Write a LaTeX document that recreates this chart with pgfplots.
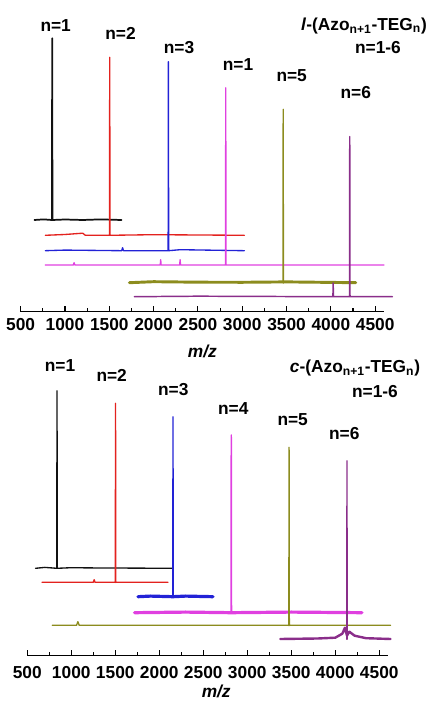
\documentclass[border=0pt]{standalone}
\usepackage{pgfplots}
\pgfplotsset{compat=1.18}
\usepackage{fontspec}
\setmainfont{Liberation Sans}
\definecolor{cBlack}{HTML}{111111}
\definecolor{cRed}{HTML}{E3221E}
\definecolor{cBlue}{HTML}{2222D6}
\definecolor{cMag}{HTML}{E040E0}
\definecolor{cOli}{HTML}{8C8C1E}
\definecolor{cPur}{HTML}{8A2E8A}
\begin{document}
\begin{tikzpicture}[x=0.75pt,y=0.75pt,font=\fontsize{13}{15}\selectfont\bfseries]
\path[use as bounding box] (0,0) rectangle (431,702);
\pgfplotsset{spec/.style={
  scale only axis, height=225pt, xmin=500, xmax=4600, ymin=0, ymax=300,
  clip=false, axis x line=bottom, axis y line=none,
  axis line style={-, line width=1pt, black},
  xtick={500,1000,1500,2000,2500,3000,3500,4000,4500},
  xticklabels={500,1000,1500,2000,2500,3000,3500,4000,4500},
  minor x tick num=1, tick align=inside,
  major tick length=4.5pt, minor tick length=2.5pt,
  tick style={line width=0.8pt, black},
  every tick label/.append style={font=\fontsize{13}{15}\selectfont\bfseries},
  xlabel={\bfseries\itshape m/z},
  every axis plot/.append style={line join=round, line cap=round},
}}
% ---------------- top panel: l-(Azo_{n+1}-TEG_n)
\begin{axis}[spec, at={(23.3,390.3)}, anchor=south west, width=272.55pt,
  xticklabel style={anchor=center, yshift=-9.3pt},
  xlabel style={at={(axis description cs:0.5,0)}, anchor=center, yshift=-30pt}]
% black n=1
\addplot[cBlack, line width=1.3pt] coordinates {(655,91.7)(760,92.3)(853,91.7)(856,273.4)(859,91.7)(1000,92.2)(1200,91.7)(1400,92.3)(1637,91.7)};
\addplot[cBlack, line width=1.5pt] coordinates {(856,91.7)(856,151.7)};
% red n=2
\addplot[cRed, line width=1.0pt] coordinates {(779,76.4)(1000,77.2)(1200,78.5)(1230,76.4)(1502,76.4)(1505,254.4)(1508,76.4)(2000,77.0)(3024,76.4)};
% blue n=3
\addplot[cBlue, line width=1.0pt] coordinates {(779,61)(1000,61.6)(1640,61)(1650,64)(1660,61)(2164,61)(2167,250)(2170,61)(2300,62)(3024,61)};
% magenta n=4
\addplot[cMag, line width=1.0pt] coordinates {(779,46.7)(1095,46.7)(1103,49)(1111,46.7)(2075,46.7)(2080,52)(2085,46.7)(2294,46.7)(2299,52)(2304,46.7)(2811,46.7)(2814,224)(2817,46.7)(4600,46.7)};
% olive n=5
\addplot[cOli, line width=2.2pt] coordinates {(1727,29)(2000,30)(2500,29.5)(3000,29.4)(3500,29.8)(4281,29)};
\addplot[cOli, line width=1.0pt] coordinates {(3459,29)(3462,202.4)(3465,29)};
\addplot[cOli, line width=1.4pt] coordinates {(3465,29)(3465,128.7)};
% purple n=6
\addplot[cPur, line width=1.1pt] coordinates {(1783,15)(2500,15.5)(4023,15)(4026,28.7)(4029,15)(4210,15)(4213,175)(4216,15)(4694,15)};
\end{axis}
% ---------------- bottom panel: c-(Azo_{n+1}-TEG_n)
\begin{axis}[spec, at={(31,46.3)}, anchor=south west, width=270.6pt,
  xticklabel style={anchor=center, yshift=-13pt},
  xlabel style={at={(axis description cs:0.5,0)}, anchor=center, yshift=-27pt, xshift=6.4pt}]
% black n=1
\addplot[cBlack, line width=1.0pt] coordinates {(594,87.4)(700,88.3)(835,87.4)(838,265)(841,87.4)(1000,88)(1200,87.8)(2148,87.4)};
% red n=2
\addplot[cRed, line width=1.0pt] coordinates {(667,73.4)(1250,73.4)(1260,76)(1270,73.4)(1500,73.4)(1503,252.4)(1506,73.4)(2099,73.4)};
\addplot[cRed, line width=1.3pt] coordinates {(1503,73.4)(1503,147.7)};
% blue n=3
\addplot[cBlue, line width=2.4pt] coordinates {(1758,59)(1900,59.6)(2156,59)(2300,59.6)(2610,59)};
\addplot[cBlue, line width=1.0pt] coordinates {(2153,59)(2156,239)(2159,59)};
\addplot[cBlue, line width=1.4pt] coordinates {(2156,59)(2156,164)};
% magenta n=4
\addplot[cMag, line width=2.4pt] coordinates {(1719,43)(2300,43.6)(2818,43)(3500,43.6)(4303,43)};
\addplot[cMag, line width=1.1pt] coordinates {(2815,43)(2818,220.7)(2821,43)};
% olive n=5
\addplot[cOli, line width=1.0pt] coordinates {(784,30.4)(1060,30.4)(1075,34)(1090,30.4)(3472,30.4)(3475,208.4)(3478,30.4)(4628,30.4)};
\addplot[cOli, line width=1.5pt] coordinates {(3475,30.4)(3475,90.7)};
% purple n=6
\addplot[cPur, line width=1.8pt] coordinates {(3375,16.7)(3800,17.2)(4000,18)(4080,22)(4110,28)(4133,20)(4160,24)(4220,20)(4350,17.5)(4628,16.7)};
\addplot[cPur, line width=1.0pt] coordinates {(4130,16.7)(4133,195)(4136,16.7)};
\addplot[cPur, line width=1.5pt] coordinates {(4133,16.7)(4133,70.7)};
\end{axis}
% ---------------- labels (top)
\node at (55.7,702-25.3) {n=1};
\node at (120.5,702-33) {n=2};
\node at (179,702-48) {n=3};
\node at (238,702-65) {n=1};
\node at (291.7,702-76) {n=5};
\node at (355.8,702-93) {n=6};
\node at (364,702-25.8) {\textit{l}-(Azo\textsubscript{n+1}-TEG\textsubscript{n})};
\node at (378,702-48) {n=1-6};
% ---------------- labels (bottom)
\node at (60,702-366) {n=1};
\node at (111.7,702-375) {n=2};
\node at (173.3,702-390) {n=3};
\node at (233.3,702-408.3) {n=4};
\node at (292.7,702-419.3) {n=5};
\node at (344.3,702-434) {n=6};
\node at (355,702-368.3) {\textit{c}-(Azo\textsubscript{n+1}-TEG\textsubscript{n})};
\node at (375,702-391.7) {n=1-6};
\end{tikzpicture}
\end{document}
